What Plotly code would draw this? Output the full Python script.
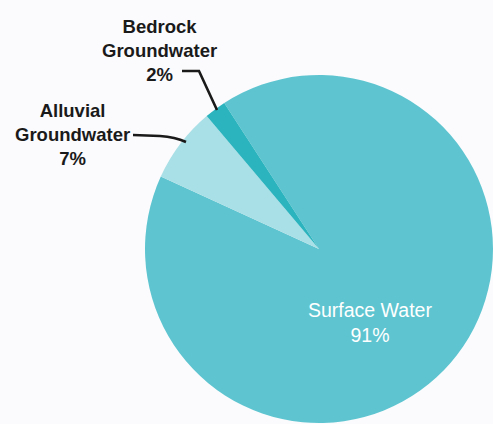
import plotly.graph_objects as go

# Water source shares (percent)
sources = ["Surface Water", "Alluvial Groundwater", "Bedrock Groundwater"]
shares = [91, 7, 2]
slice_colors = ["#5ec5d0", "#a9dfe6", "#2bb4be"]

W, H = 493, 424


def px(x, y):
    """Convert pixel position to paper coordinates."""
    return x / W, 1 - y / H


fig = go.Figure(
    go.Pie(
        labels=sources,
        values=shares,
        sort=False,
        direction="clockwise",
        rotation=-33,
        marker=dict(colors=slice_colors, line=dict(width=0)),
        textinfo="none",
        hoverinfo="skip",
        showlegend=False,
        domain=dict(x=[145 / W, 1.0], y=[1 - 423 / H, 1 - 75 / H]),
    )
)

label_font = dict(family="Liberation Sans, Arial, sans-serif", size=18.5, color="#1a1a1a")

# Outside labels for the groundwater slices
bx, by = px(159, 50)
fig.add_annotation(
    x=bx, y=by, xref="paper", yref="paper", showarrow=False,
    text=f"<b>Bedrock<br>Groundwater<br>{shares[2]}%</b>",
    font=label_font, align="center", xanchor="center", yanchor="middle",
)
ax_, ay_ = px(72, 134)
fig.add_annotation(
    x=ax_, y=ay_, xref="paper", yref="paper", showarrow=False,
    text=f"<b>Alluvial<br>Groundwater<br>{shares[1]}%</b>",
    font=label_font, align="center", xanchor="center", yanchor="middle",
)

# Inside label for surface water
sx, sy = px(370, 322)
fig.add_annotation(
    x=sx, y=sy, xref="paper", yref="paper", showarrow=False,
    text=f"Surface Water<br>{shares[0]}%",
    font=dict(family="Liberation Sans, Arial, sans-serif", size=19.5, color="#ffffff"),
    align="center", xanchor="center", yanchor="middle",
)


def path_from(points):
    pts = [px(x, y) for x, y in points]
    d = f"M {pts[0][0]:.5f},{pts[0][1]:.5f}"
    for x, y in pts[1:]:
        d += f" L {x:.5f},{y:.5f}"
    return d


# Leader lines
leader = dict(color="#1a1a1a", width=2.6)
fig.add_shape(type="path", xref="paper", yref="paper",
              path=path_from([(182, 71), (199, 71), (217, 110)]), line=leader)

p0, p1, c, p2 = px(133, 135), px(160, 136), px(175, 137), px(186, 142)
fig.add_shape(
    type="path", xref="paper", yref="paper",
    path=(f"M {p0[0]:.5f},{p0[1]:.5f} L {p1[0]:.5f},{p1[1]:.5f} "
          f"Q {c[0]:.5f},{c[1]:.5f} {p2[0]:.5f},{p2[1]:.5f}"),
    line=leader,
)

fig.update_layout(
    width=W, height=H,
    margin=dict(l=0, r=0, t=0, b=0),
    paper_bgcolor="#fbfbfd",
    plot_bgcolor="#fbfbfd",
)

fig.write_html("out.html")
